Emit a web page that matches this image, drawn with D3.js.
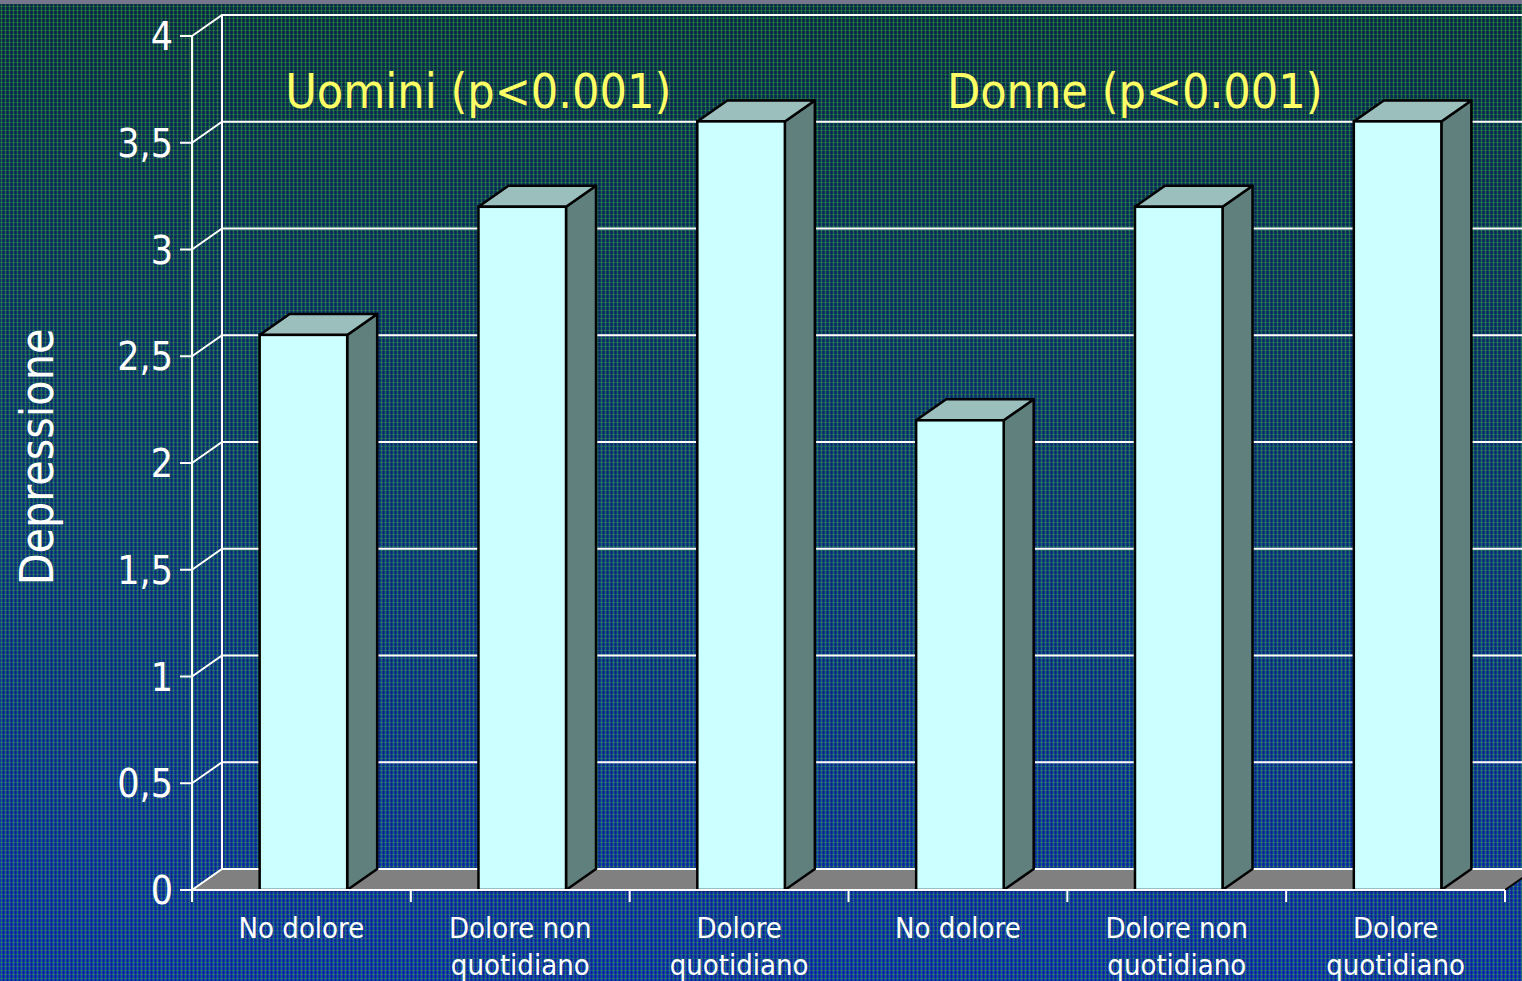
<!DOCTYPE html>
<html>
<head>
<meta charset="utf-8">
<script src="https://cdn.jsdelivr.net/npm/d3@7"></script>
<style>
  body { margin: 0; overflow: hidden; background: #1b3f6a; }
  text { font-family: "DejaVu Sans Condensed", "DejaVu Sans", sans-serif; font-stretch: condensed; }
</style>
</head>
<body>
<svg id="chart" width="1522" height="981"></svg>
<script>
var groups = ["Uomini (p<0.001)", "Donne (p<0.001)"]
var categories = [["No dolore"], ["Dolore non", "quotidiano"], ["Dolore", "quotidiano"]]
var uomini = [2.6, 3.2, 3.6]
var donne = [2.2, 3.2, 3.6]
var yTicks = [0, 0.5, 1, 1.5, 2, 2.5, 3, 3.5, 4]
var yTickLabels = ["0", "0,5", "1", "1,5", "2", "2,5", "3", "3,5", "4"]
var yTitle = "Depressione"

var W = 1522, H = 981
var dx = 30, dy = -21   // depth of the 3d box

var svg = d3.select("#chart")

// flatten groups x categories into one row per bar
var rows = []
groups.forEach(function (g, gi) {
  var vals = gi == 0 ? uomini : donne
  categories.forEach(function (c, ci) {
    rows.push({ id: gi + "-" + ci, group: gi, label: c, value: vals[ci] })
  })
})

var x = d3.scaleBand().domain(rows.map(function (d) { return d.id })).range([192, 1505])
var y = d3.scaleLinear().domain([0, 4]).range([890, 36])

// background
var defs = svg.append("defs")
var grad = defs.append("linearGradient").attr("id", "bg").attr("x1", 0).attr("y1", 0).attr("x2", 0).attr("y2", 1)
grad.append("stop").attr("offset", "0%").attr("stop-color", "#0d3040")
grad.append("stop").attr("offset", "50%").attr("stop-color", "#11387a")
grad.append("stop").attr("offset", "100%").attr("stop-color", "#1130b4")

var pat = defs.append("pattern").attr("id", "weave")
  .attr("width", 4).attr("height", 4).attr("patternUnits", "userSpaceOnUse")
pat.append("rect").attr("x", 1).attr("y", 0).attr("width", 1).attr("height", 4).attr("fill", "#2fb040").attr("opacity", 0.45)
pat.append("rect").attr("x", 0).attr("y", 2).attr("width", 4).attr("height", 1).attr("fill", "#2fb040").attr("opacity", 0.4)
pat.append("rect").attr("x", 3).attr("y", 0).attr("width", 1).attr("height", 4).attr("fill", "#0a1460").attr("opacity", 0.4)

svg.append("rect").attr("width", W).attr("height", H).attr("fill", "url(#bg)")
svg.append("rect").attr("width", W).attr("height", H).attr("fill", "url(#weave)")
svg.append("rect").attr("width", W).attr("height", 4).attr("fill", "#76768c")

// floor
var x0 = x.range()[0], x1 = x.range()[1]
svg.append("polygon")
  .attr("points", [[x0, y(0)], [x1, y(0)], [x1 + dx, y(0) + dy], [x0 + dx, y(0) + dy]].join(" "))
  .attr("fill", "#808080")
svg.append("line")
  .attr("x1", x1).attr("y1", y(0)).attr("x2", x1 + dx).attr("y2", y(0) + dy)
  .attr("stroke", "black").attr("stroke-width", 2)

// gridlines: front diagonal + back wall line
svg.selectAll(".grid").data(yTicks).enter().append("polyline")
  .attr("class", "grid")
  .attr("points", function (d) {
    return [[x0, y(d)], [x0 + dx, y(d) + dy], [W, y(d) + dy]].join(" ")
  })
  .attr("fill", "none").attr("stroke", "white").attr("stroke-width", 2)

// back wall vertical edge
svg.append("line")
  .attr("x1", x0 + dx).attr("y1", y(0) + dy).attr("x2", x0 + dx).attr("y2", y(4) + dy)
  .attr("stroke", "white").attr("stroke-width", 2)

// bars
var bw = x.bandwidth() * 0.4
function fx(d) { return x(d.id) + x.bandwidth() / 2 + 2 - bw / 2 }

var bars = svg.selectAll(".bar").data(rows).enter().append("g").attr("class", "bar")
bars.append("polygon")
  .attr("points", function (d) {
    var l = fx(d) + bw
    return [[l, y(d.value)], [l + dx, y(d.value) + dy], [l + dx, y(0) + dy], [l, y(0)]].join(" ")
  })
  .attr("fill", "#5f807d").attr("stroke", "black").attr("stroke-width", 2.5).attr("stroke-linejoin", "round")
bars.append("polygon")
  .attr("points", function (d) {
    var l = fx(d)
    return [[l, y(d.value)], [l + dx, y(d.value) + dy], [l + bw + dx, y(d.value) + dy], [l + bw, y(d.value)]].join(" ")
  })
  .attr("fill", "#9abfbd").attr("stroke", "black").attr("stroke-width", 2.5).attr("stroke-linejoin", "round")
bars.append("rect")
  .attr("x", fx)
  .attr("y", function (d) { return y(d.value) })
  .attr("width", bw)
  .attr("height", function (d) { return y(0) - y(d.value) })
  .attr("fill", "#ccffff").attr("stroke", "black").attr("stroke-width", 2.5)

// front axes
svg.append("line")
  .attr("x1", x0).attr("y1", y(0)).attr("x2", x1).attr("y2", y(0))
  .attr("stroke", "white").attr("stroke-width", 2)
svg.append("line")
  .attr("x1", x0).attr("y1", y(4)).attr("x2", x0).attr("y2", y(0) + 12)
  .attr("stroke", "white").attr("stroke-width", 2)

var bounds = x.domain().map(function (id) { return x(id) }).concat([x1])
svg.selectAll(".xtick").data(bounds).enter().append("line")
  .attr("x1", function (d) { return d }).attr("x2", function (d) { return d })
  .attr("y1", y(0)).attr("y2", y(0) + 12)
  .attr("stroke", "white").attr("stroke-width", 2)

svg.selectAll(".ytick").data(yTicks).enter().append("line")
  .attr("x1", x0 - 12).attr("x2", x0)
  .attr("y1", function (d) { return y(d) }).attr("y2", function (d) { return y(d) })
  .attr("stroke", "white").attr("stroke-width", 2)

svg.selectAll(".ylab").data(yTicks).enter().append("text")
  .attr("x", x0 - 19)
  .attr("y", function (d) { return y(d) })
  .attr("dy", "0.36em")
  .attr("text-anchor", "end")
  .attr("fill", "white")
  .attr("font-size", 39)
  .text(function (d, i) { return yTickLabels[i] })

// category labels
var xl = svg.selectAll(".xlab").data(rows).enter().append("text")
  .attr("text-anchor", "middle")
  .attr("fill", "white")
  .attr("font-size", 29)
xl.selectAll("tspan").data(function (d) { return d.label.map(function (t) { return { t: t, d: d } }) })
  .enter().append("tspan")
  .attr("x", function (o) { return x(o.d.id) + x.bandwidth() / 2 })
  .attr("y", function (o, i) { return 938 + i * 37 })
  .text(function (o) { return o.t })

// group titles
svg.selectAll(".gtitle").data(groups).enter().append("text")
  .attr("x", function (g, gi) {
    var ids = rows.filter(function (r) { return r.group == gi })
    var a = x(ids[0].id), b = x(ids[ids.length - 1].id) + x.bandwidth()
    return (a + b) / 2 - 42
  })
  .attr("y", 108)
  .attr("text-anchor", "middle")
  .attr("fill", "#ffff66")
  .attr("font-size", 48)
  .text(function (g) { return g })

// y title
svg.append("text")
  .attr("transform", "translate(53," + 457 + ") rotate(-90)")
  .attr("text-anchor", "middle")
  .attr("fill", "white")
  .attr("font-size", 46)
  .text(yTitle)
</script>
</body>
</html>
